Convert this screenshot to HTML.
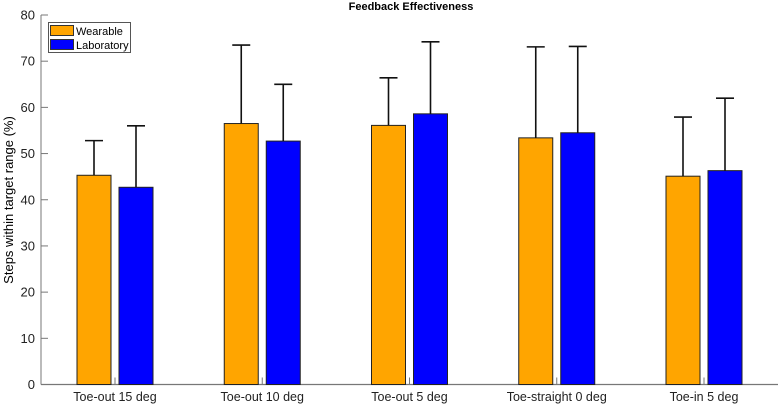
<!DOCTYPE html>
<html><head><meta charset="utf-8"><style>
body{margin:0;background:#fff;font-family:"Liberation Sans",Arial,sans-serif}
</style></head><body>
<svg id="chart" width="778" height="404" xmlns="http://www.w3.org/2000/svg" font-family="Liberation Sans, Arial, sans-serif"></svg>
<script>
const categories=["Toe-out 15 deg","Toe-out 10 deg","Toe-out 5 deg","Toe-straight 0 deg","Toe-in 5 deg"];
const wearable=[45.3,56.5,56.1,53.4,45.1];
const laboratory=[42.7,52.7,58.6,54.5,46.3];
const wearableErr=[7.5,17.0,10.3,19.7,12.8];
const laboratoryErr=[13.3,12.3,15.6,18.7,15.7];
const yTicks=[0,10,20,30,40,50,60,70,80];
const NS="http://www.w3.org/2000/svg";
const svg=document.getElementById('chart');
const x0=41,yB=384.5,yT=15;
function y(v){return yB-(v/80)*(yB-yT);}
function xc(i){return 115+i*147.25;}
function el(t,a,p){const e=document.createElementNS(NS,t);for(const k in a)e.setAttribute(k,a[k]);(p||svg).appendChild(e);return e;}
let t=el('text',{x:411,y:10,'text-anchor':'middle','font-size':11,'font-weight':'bold',fill:'#000'});t.textContent="Feedback Effectiveness";

t=el('text',{transform:'translate(13,200) rotate(-90)','text-anchor':'middle','font-size':13,fill:'#000'});t.textContent="Steps within target range (%)";

let a=el('line',{x1:x0,y1:yT,x2:x0,y2:yB,stroke:'#777','stroke-width':1});

a=el('line',{x1:x0,y1:yB,x2:778,y2:yB,stroke:'#777','stroke-width':1.2});

yTicks.forEach(v=>{
 el('line',{x1:x0,y1:y(v),x2:x0+7,y2:y(v),stroke:'#777'});
 const tt=el('text',{x:x0-6,y:y(v)+4.5,'text-anchor':'end','font-size':13,fill:'#222'});tt.textContent=v;
 
});
function bar(i,v,e,dx,col,name){
 const cx=xc(i)+dx;
 const r=el('rect',{x:cx-17,y:y(v),width:34,height:yB-y(v),fill:col,stroke:'#222','stroke-width':1});
 
 const g=el('path',{d:`M${cx},${y(v)}V${y(v+e)}M${cx-9},${y(v+e)}H${cx+9}`,stroke:'#111','stroke-width':1.6,fill:'none'});
 
}
categories.forEach((c,i)=>{
 bar(i,wearable[i],wearableErr[i],-21,'#FFA500','bar-wearable');
 bar(i,laboratory[i],laboratoryErr[i],21,'#0000FF','bar-laboratory');
 el('line',{x1:xc(i),y1:yB,x2:xc(i),y2:yB-7,stroke:'#777'});
 const tl=el('text',{x:xc(i),y:401,'text-anchor':'middle','font-size':12.5,fill:'#222'});tl.textContent=c;
 
});
const lg=el('g',{});

el('rect',{x:48.5,y:22.5,width:82,height:30,fill:'#fff',stroke:'#555'},lg);
el('rect',{x:50.5,y:25.5,width:23,height:10,fill:'#FFA500',stroke:'#333'},lg);
el('rect',{x:50.5,y:39.5,width:23,height:10,fill:'#0000FF',stroke:'#333'},lg);
t=el('text',{x:76,y:35,'font-size':11,fill:'#000'},lg);t.textContent="Wearable";

t=el('text',{x:76,y:49,'font-size':11,fill:'#000'},lg);t.textContent="Laboratory";

</script>
</body></html>
